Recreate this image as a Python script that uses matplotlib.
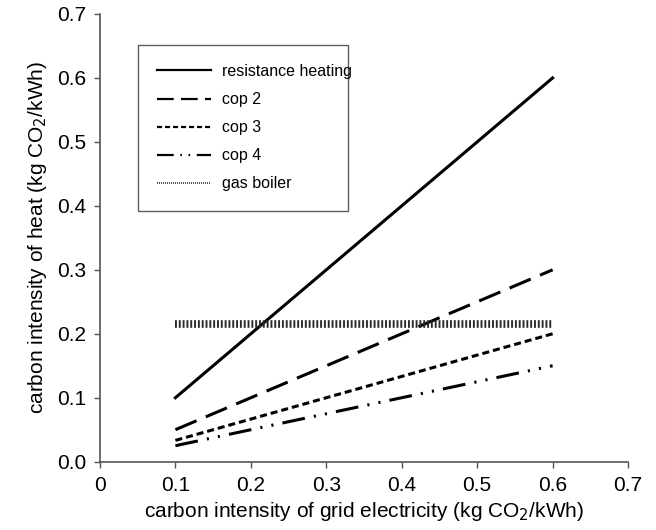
import matplotlib.pyplot as plt
import numpy as np

plt.rcParams['font.family'] = ['Liberation Sans', 'DejaVu Sans']

grid_ci = np.array([0.1, 0.6])
resistance = np.array([0.1, 0.6])
cop2 = np.array([0.05, 0.3])
cop3 = np.array([0.0333, 0.2])
cop4 = np.array([0.025, 0.15])
gas_boiler = np.array([0.216, 0.216])

fig = plt.figure(figsize=(6.56, 5.3), dpi=100)
ax = fig.add_axes([0.1524, 0.1289, 0.805, 0.8447])

ax.plot(grid_ci, resistance, color='black', lw=2.2, label='resistance heating')
ax.plot(grid_ci, cop2, color='black', lw=2.2, dashes=(7.5, 3.3), label='cop 2')
ax.plot(grid_ci, cop3, color='black', lw=2.2, dashes=(2.3, 1.3), label='cop 3')
ax.plot(grid_ci, cop4, color='black', lw=2.2, dashes=(7.5, 3, 0.7, 3, 0.7, 3), label='cop 4')
ax.plot(grid_ci, gas_boiler, color='#2a2a2a', lw=5.5, dashes=(0.25, 0.25), label='gas boiler')

ax.set_xlim(0, 0.7)
ax.set_ylim(0, 0.7)
ax.set_xticks(np.arange(0, 0.71, 0.1))
ax.set_xticklabels(['0', '0.1', '0.2', '0.3', '0.4', '0.5', '0.6', '0.7'])
ax.set_yticks(np.arange(0, 0.71, 0.1))
ax.set_yticklabels(['0.0', '0.1', '0.2', '0.3', '0.4', '0.5', '0.6', '0.7'])
ax.tick_params(direction='out', length=4, width=1, color='#555555', labelsize=15, pad=6)
for s in ['top', 'right']:
    ax.spines[s].set_visible(False)
for s in ['left', 'bottom']:
    ax.spines[s].set_color('#555555')
    ax.spines[s].set_linewidth(1.2)

ax.set_xlabel('carbon intensity of grid electricity (kg CO$_2$/kWh)', fontsize=15, labelpad=4)
ax.set_ylabel('carbon intensity of heat (kg CO$_2$/kWh)', fontsize=15, labelpad=6)

leg = ax.legend(loc='upper left', bbox_to_anchor=(0.072, 0.562, 0.398, 0.369), mode='expand',
                borderaxespad=0, fontsize=11.5, frameon=True, fancybox=False, edgecolor='#333333',
                handlelength=3.4, labelspacing=0.82, borderpad=1.2, handletextpad=0.65)
leg.get_frame().set_linewidth(1.0)
for h in leg.get_lines():
    h.set_linewidth(1.6)
leg.get_lines()[-1].set_linewidth(1.2)
leg.get_lines()[-1].set_dashes((0.6, 0.6))

fig.savefig('out.png', dpi=100)
